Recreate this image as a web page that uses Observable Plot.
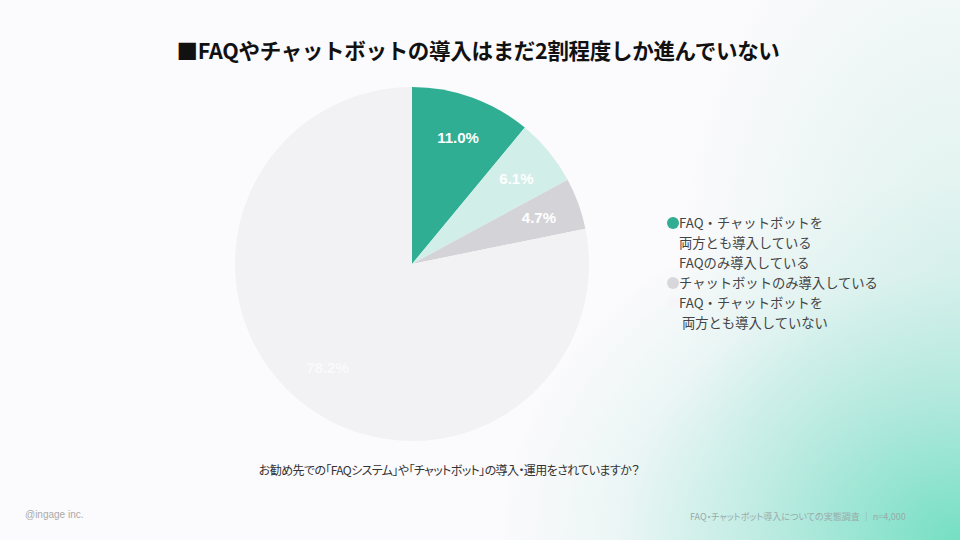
<!DOCTYPE html>
<html><head><meta charset="utf-8">
<script src="https://cdn.jsdelivr.net/npm/d3@7"></script>
<script src="https://cdn.jsdelivr.net/npm/@observablehq/plot@0.6"></script>
<style>
html,body{margin:0;padding:0;}
body{width:960px;height:540px;position:relative;overflow:hidden;font-family:"Noto Sans CJK JP","Noto Sans",sans-serif;
background:
 radial-gradient(ellipse 460px 360px at 100% 100%, rgba(110,222,192,0.95) 0%, rgba(150,226,210,0.65) 40%, rgba(200,236,230,0.3) 75%, rgba(251,250,252,0) 100%),
 radial-gradient(ellipse 280px 400px at 100% 50%, rgba(196,235,226,0.55) 0%, rgba(251,250,252,0) 100%),
 #fbfafc;}
#title{position:absolute;left:0;width:956px;top:34px;text-align:center;font-size:21.5px;font-weight:bold;color:#111;letter-spacing:-0.3px;}
#chart{position:absolute;left:232px;top:84px;}
#legend{position:absolute;left:666px;top:213px;font-size:13.3px;color:#444;line-height:20px;}
.li{position:relative;padding-left:13px;}
.dot{position:absolute;left:1px;top:4px;width:12px;height:12px;border-radius:50%;}
#question{position:absolute;left:0;width:898px;top:461px;text-align:center;font-size:12px;letter-spacing:-0.6px;color:#333;font-feature-settings:"palt";}
#foot1{position:absolute;left:25px;top:509px;font-size:10px;color:#aaa;font-family:"Liberation Sans",sans-serif;}
#foot2{position:absolute;left:690px;top:510px;font-size:9px;color:#9aa;font-feature-settings:"palt";}
</style></head>
<body>
<div id="title">■FAQやチャットボットの導入はまだ2割程度しか進んでいない</div>
<div id="chart"></div>
<div id="legend"></div>
<div id="question">お勧め先での「FAQシステム」や「チャットボット」の導入・運用をされていますか？</div>
<div id="foot1">@ingage inc.</div>
<div id="foot2">FAQ・チャットボット導入についての実態調査 ｜ n=4,000</div>
<script>
const categories = ["FAQ・チャットボットを両方とも導入している", "FAQのみ導入している", "チャットボットのみ導入している", "FAQ・チャットボットを両方とも導入していない"];
const legendLines = [["FAQ・チャットボットを", "両方とも導入している"], ["FAQのみ導入している"], ["チャットボットのみ導入している"], ["FAQ・チャットボットを", "\u00a0両方とも導入していない"]];
const values = [11.0, 6.1, 4.7, 78.2];
const labels = ["11.0%", "6.1%", "4.7%", "78.2%"];
const colors = ["#2fae94", "#d2eee8", "#d4d4d8", "#f2f2f4"];
const legendDotColors = ["#2fae94", "#fbfbfc", "#d8d8dc", "#f6f6f8"];

const pie = d3.pie().sort(null).value(d => d.value);
const data = categories.map((c, i) => ({category: c, value: values[i], label: labels[i]}));
const arcs = pie(data);
const labelR = 0.76;
const labelData = arcs.map((a, i) => {
  const m = (a.startAngle + a.endAngle) / 2;
  return {label: a.data.label, x: labelR * Math.sin(m), y: labelR * Math.cos(m), op: i === 3 ? 0.6 : 1};
});

const size = 360;
const R = 177;
const plot = Plot.plot({
  width: size, height: size, margin: 0,
  x: {domain: [-size/2/R, size/2/R], axis: null},
  y: {domain: [-size/2/R, size/2/R], axis: null},
  color: {domain: categories, range: colors},
  style: {background: "transparent", overflow: "visible"},
  marks: [
    (index, scales, values, dims) => {
      const cx = scales.x(0), cy = scales.y(0);
      const r = scales.x(1) - scales.x(0);
      const arc = d3.arc().innerRadius(0).outerRadius(r);
      const g = d3.create("svg:g").attr("transform", `translate(${cx},${cy})`);
      g.selectAll("path").data(arcs).join("path")
        .attr("d", arc)
        .attr("fill", d => scales.color(d.data.category));
      return g.node();
    },
    Plot.text(labelData, {x: "x", y: "y", text: "label", fill: "white", fillOpacity: "op", fontSize: 15, fontWeight: "bold",
      fontFamily: "Liberation Sans, Arial, sans-serif"})
  ]
});
document.getElementById("chart").appendChild(plot);

const leg = d3.select("#legend");
legendLines.forEach((lines, i) => {
  const item = leg.append("div").attr("class", "li");
  item.append("span").attr("class", "dot").style("background", legendDotColors[i]);
  lines.forEach(l => item.append("div").text(l));
});
</script>
</body></html>
